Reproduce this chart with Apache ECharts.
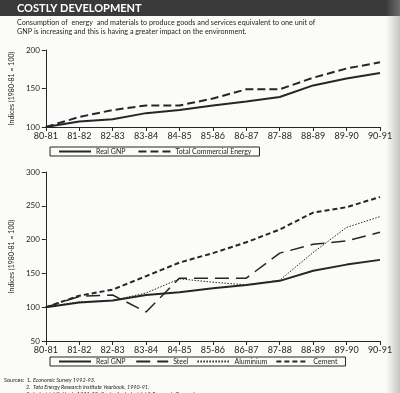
<!DOCTYPE html>
<html><head><meta charset="utf-8">
<script src="https://cdn.jsdelivr.net/npm/echarts@6/dist/echarts.min.js"></script>
<style>html,body{margin:0;padding:0;background:#fbfbf9}#c{width:400px;height:393px}</style>
</head><body><div id="c"></div>
<script>
const years = ['80-81','81-82','82-83','83-84','84-85','85-86','86-87','87-88','88-89','89-90','90-91'];
const realGNP = [100,107,110,118,122,128,133,139,154,163,170];
const totalEnergy = [100,113,122,128,128,137,149,149,164,176,184];
const steel = [100,116,118,93,143,143,143,180,193,198,211];
const aluminium = [100,108,110,121,142,137,133,140,181,218,234];
const cement = [100,117,126,146,166,180,196,215,240,248,263];

const F = 'Lato, "DejaVu Sans", sans-serif';
const ink = '#262626';
const chart = echarts.init(document.getElementById('c'), null, {renderer:'canvas'});

function xAx(gi){return {type:'category',gridIndex:gi,data:years,boundaryGap:false,
  axisLine:{lineStyle:{color:ink,width:1}},axisTick:{length:4,lineStyle:{color:ink}},
  axisLabel:{color:ink,fontSize:9,fontFamily:F,margin:5,interval:0}};}
function yAx(gi,min,max){return {type:'value',gridIndex:gi,min:min,max:max,interval:50,
  name:'Indices (1980-81 = 100)',nameLocation:'middle',nameRotate:90,nameGap:30,
  nameTextStyle:{color:ink,fontSize:7,fontFamily:F},
  axisLine:{show:true,lineStyle:{color:ink,width:1}},axisTick:{show:true,length:4,lineStyle:{color:ink}},
  axisLabel:{color:ink,fontSize:8,fontFamily:F,margin:6},splitLine:{show:false}};}
function ser(name,data,gi,type,width){return {name:name,type:'line',xAxisIndex:gi,yAxisIndex:gi,data:data,
  symbol:'none',smooth:false,lineStyle:{color:ink,width:width,type:type},itemStyle:{color:ink}};}
const legBase = {orient:'horizontal',borderColor:ink,borderWidth:1,padding:[1,8,1,8],itemWidth:32,itemHeight:8,
  itemStyle:{opacity:0},textStyle:{color:ink,fontSize:7,fontFamily:F}};

chart.setOption({
  animation:false,
  backgroundColor:'#fbfbf9',
  graphic:[
    {type:'rect',shape:{x:0,y:0,width:400,height:16},style:{fill:'#3a3a3a'}},
    {type:'rect',shape:{x:386,y:0,width:14,height:393},style:{fill:new echarts.graphic.LinearGradient(0,0,1,0,[{offset:0,color:'rgba(160,160,160,0)'},{offset:1,color:'rgba(150,150,150,0.55)'}])}},
    {type:'text',left:17,top:3,style:{text:'COSTLY DEVELOPMENT',fill:'#fff',font:'bold 11px '+F}},
    {type:'text',left:17,top:18,style:{text:'Consumption of  energy  and materials to produce goods and services equivalent to one unit of\nGNP is increasing and this is having a greater impact on the environment.',fill:ink,font:'7.2px '+F,lineHeight:9}},
    {type:'text',left:4,top:377,style:{text:'Sources:  1.  ',fill:ink,font:'5.5px '+F}},
    {type:'text',left:33,top:377,style:{text:'Economic Survey 1992-93.',fill:ink,font:'italic 5.5px '+F}},
    {type:'text',left:26,top:384,style:{text:'2.  Tata Energy Research Institute Yearbook, 1990-91.',fill:ink,font:'italic 5.5px '+F}},
    {type:'text',left:26,top:391,style:{text:'3.  Industrial Outlook, 1991-92, Centre for Industrial & Economic Research',fill:ink,font:'italic 5.5px '+F}}
  ],
  grid:[
    {left:40,right:20,top:50,height:77},
    {left:40,right:20,top:172,height:169}
  ],
  xAxis:[xAx(0),xAx(1)],
  yAxis:[yAx(0,100,200),yAx(1,50,300)],
  legend:[
    Object.assign({},legBase,{data:['Real GNP','Total Commercial Energy'],left:50,top:147,itemGap:12}),
    Object.assign({},legBase,{data:['Real GNP ','Steel','Aluminium','Cement'],left:50,top:357,itemGap:8})
  ],
  series:[
    ser('Real GNP',realGNP,0,'solid',2),
    ser('Total Commercial Energy',totalEnergy,0,[8,4],2),
    ser('Real GNP ',realGNP,1,'solid',2),
    ser('Steel',steel,1,[14,7],1.5),
    ser('Aluminium',aluminium,1,[1.5,1.5],1),
    ser('Cement',cement,1,[5,3],2)
  ]
});
</script></body></html>
